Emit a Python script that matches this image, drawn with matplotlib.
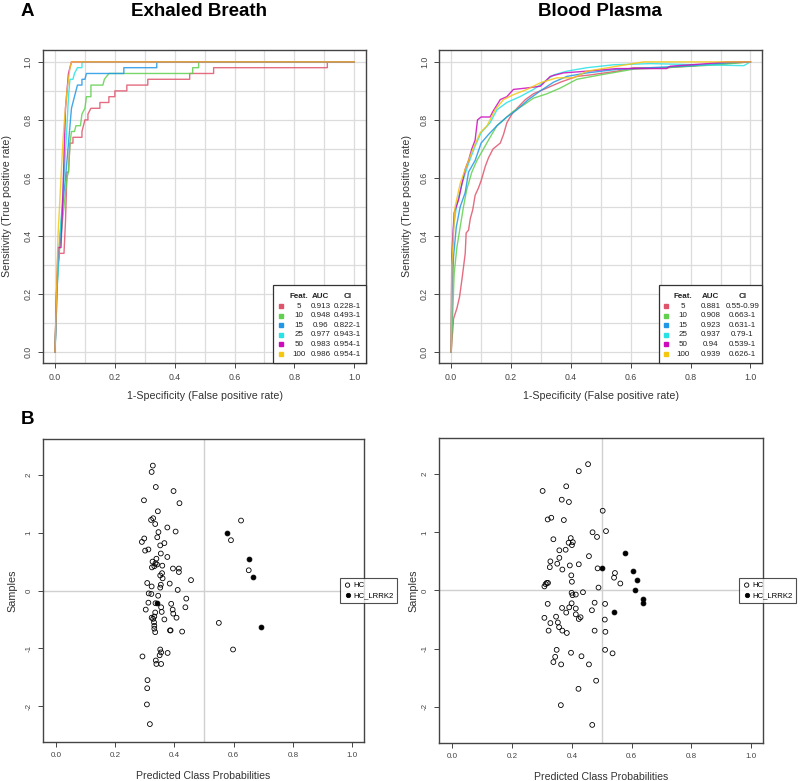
import numpy as np
import matplotlib
matplotlib.use('Agg')
import matplotlib.pyplot as plt
from matplotlib.patches import Rectangle

plt.rcParams['font.family'] = ['Liberation Sans', 'DejaVu Sans']
plt.rcParams['axes.unicode_minus'] = False

# --- ROC data, Exhaled Breath (fpr / tpr vertices)
b5_fpr = [0, 0.005, 0.01, 0.015, 0.03, 0.035, 0.04, 0.045, 0.05, 0.06, 0.06, 0.09, 0.09, 0.10, 0.11, 0.11,
          0.12, 0.15, 0.15, 0.18, 0.18, 0.20, 0.20, 0.24, 0.24, 0.31, 0.31, 0.45, 0.45, 0.53, 0.53, 0.91, 0.91, 1.0]
b5_tpr = [0, 0.2, 0.3, 0.34, 0.34, 0.45, 0.62, 0.62, 0.72, 0.72, 0.74, 0.74, 0.76, 0.80, 0.80, 0.82,
          0.84, 0.84, 0.86, 0.86, 0.88, 0.88, 0.90, 0.90, 0.92, 0.92, 0.94, 0.94, 0.96, 0.96, 0.98, 0.98, 1.0, 1.0]
b10_fpr = [0, 0.005, 0.015, 0.03, 0.04, 0.045, 0.05, 0.055, 0.065, 0.07, 0.085, 0.09, 0.10, 0.105, 0.12, 0.12,
           0.16, 0.165, 0.18, 0.46, 0.46, 0.48, 0.48, 1.0]
b10_tpr = [0, 0.2, 0.35, 0.5, 0.6, 0.62, 0.72, 0.76, 0.76, 0.78, 0.78, 0.82, 0.84, 0.88, 0.88, 0.92,
           0.92, 0.94, 0.96, 0.96, 0.98, 0.98, 1.0, 1.0]
b15_fpr = [0, 0.005, 0.01, 0.02, 0.03, 0.035, 0.045, 0.05, 0.055, 0.06, 0.065, 0.07, 0.075, 0.09, 0.09, 0.10,
           0.105, 0.23, 0.23, 0.34, 0.34, 1.0]
b15_tpr = [0, 0.15, 0.3, 0.44, 0.55, 0.6, 0.72, 0.78, 0.84, 0.86, 0.88, 0.9, 0.92, 0.92, 0.94, 0.94,
           0.96, 0.96, 0.98, 0.98, 1.0, 1.0]
b25_fpr = [0, 0.005, 0.01, 0.02, 0.03, 0.04, 0.045, 0.05, 0.06, 0.065, 0.075, 0.09, 0.09, 1.0]
b25_tpr = [0, 0.15, 0.3, 0.45, 0.6, 0.78, 0.88, 0.94, 0.94, 0.96, 0.98, 0.98, 1.0, 1.0]
b50_fpr = [0, 0.005, 0.01, 0.02, 0.025, 0.035, 0.04, 0.045, 0.05, 0.055, 1.0]
b50_tpr = [0, 0.2, 0.36, 0.36, 0.5, 0.84, 0.9, 0.96, 0.98, 1.0, 1.0]
b100_fpr = [0, 0.005, 0.01, 0.02, 0.025, 0.03, 0.04, 0.05, 0.055, 1.0]
b100_tpr = [0, 0.2, 0.4, 0.6, 0.7, 0.78, 0.9, 0.98, 1.0, 1.0]

# --- ROC data, Blood Plasma
p5_fpr = [0, 0.008, 0.019, 0.028, 0.036, 0.047, 0.05, 0.058, 0.064, 0.072, 0.08, 0.091, 0.10, 0.114, 0.125,
          0.14, 0.164, 0.175, 0.186, 0.203, 0.22, 0.248, 0.275, 0.32, 0.365, 0.42, 0.465, 0.554, 0.61, 0.72,
          0.855, 1.0]
p5_tpr = [0, 0.115, 0.15, 0.19, 0.25, 0.34, 0.41, 0.42, 0.46, 0.49, 0.54, 0.565, 0.59, 0.64, 0.67,
          0.70, 0.72, 0.75, 0.79, 0.82, 0.84, 0.87, 0.89, 0.91, 0.93, 0.95, 0.955, 0.968, 0.98, 0.98,
          0.99, 1.0]
p10_fpr = [0, 0.004, 0.01, 0.019, 0.03, 0.041, 0.052, 0.069, 0.086, 0.108, 0.13, 0.153, 0.175, 0.208, 0.24,
           0.275, 0.32, 0.365, 0.42, 0.498, 0.61, 0.72, 0.89, 1.0]
p10_tpr = [0, 0.1, 0.27, 0.36, 0.43, 0.50, 0.56, 0.62, 0.66, 0.70, 0.74, 0.78, 0.80, 0.83, 0.85,
           0.875, 0.89, 0.91, 0.94, 0.955, 0.975, 0.98, 0.99, 1.0]
p15_fpr = [0, 0.002, 0.008, 0.017, 0.03, 0.047, 0.058, 0.08, 0.10, 0.125, 0.153, 0.186, 0.22, 0.258, 0.298,
           0.342, 0.387, 0.454, 0.554, 0.666, 0.81, 0.922, 1.0]
p15_tpr = [0, 0.18, 0.33, 0.43, 0.50, 0.55, 0.62, 0.66, 0.72, 0.75, 0.78, 0.81, 0.835, 0.87, 0.90,
           0.93, 0.95, 0.962, 0.974, 0.98, 0.987, 0.997, 1.0]
p25_fpr = [0, 0.002, 0.008, 0.019, 0.036, 0.058, 0.08, 0.10, 0.13, 0.153, 0.186, 0.23, 0.275, 0.31, 0.342,
           0.387, 0.454, 0.543, 0.666, 0.833, 0.978, 1.0]
p25_tpr = [0, 0.27, 0.43, 0.51, 0.58, 0.65, 0.71, 0.756, 0.79, 0.835, 0.86, 0.88, 0.905, 0.93, 0.955,
           0.968, 0.98, 0.99, 0.994, 0.99, 0.987, 1.0]
p50_fpr = [0, 0.002, 0.01, 0.025, 0.036, 0.047, 0.058, 0.069, 0.08, 0.088, 0.10, 0.13, 0.14, 0.164, 0.186,
           0.208, 0.253, 0.298, 0.331, 0.376, 0.454, 0.554, 0.72, 0.732, 0.855, 0.922, 1.0]
p50_tpr = [0, 0.33, 0.48, 0.525, 0.58, 0.63, 0.66, 0.70, 0.73, 0.80, 0.81, 0.81, 0.83, 0.87, 0.88,
           0.905, 0.91, 0.916, 0.95, 0.962, 0.968, 0.977, 0.977, 0.985, 0.994, 1.0, 1.0]
p100_fpr = [0, 0.002, 0.013, 0.03, 0.047, 0.069, 0.097, 0.12, 0.147, 0.175, 0.208, 0.253, 0.298, 0.353, 0.41,
            0.454, 0.554, 0.643, 1.0]
p100_tpr = [0, 0.3, 0.5, 0.58, 0.63, 0.69, 0.756, 0.78, 0.835, 0.87, 0.887, 0.905, 0.928, 0.945, 0.945,
            0.968, 0.985, 1.0, 1.0]

feats = ['5', '10', '15', '25', '50', '100']
breath_auc = ['0.913', '0.948', '0.96', '0.977', '0.983', '0.986']
breath_ci = ['0.228-1', '0.493-1', '0.822-1', '0.943-1', '0.954-1', '0.954-1']
plasma_auc = ['0.881', '0.908', '0.923', '0.937', '0.94', '0.939']
plasma_ci = ['0.55-0.99', '0.663-1', '0.631-1', '0.79-1', '0.539-1', '0.626-1']
roc_colors = ['#DF536B', '#61D04F', '#2297E6', '#28E2E5', '#CD0BBC', '#F5C710']

# --- predicted class probabilities, Exhaled Breath
hc_breath_x = [0.327, 0.323, 0.337, 0.397, 0.297, 0.417, 0.344, 0.328, 0.321, 0.335, 0.376, 0.404, 0.346,
               0.342, 0.298, 0.290, 0.366, 0.352, 0.312, 0.301, 0.354, 0.376, 0.339, 0.326, 0.336, 0.341,
               0.359, 0.332, 0.324, 0.395, 0.415, 0.415, 0.358, 0.352, 0.360, 0.456, 0.384, 0.308, 0.354,
               0.323, 0.352, 0.411, 0.313, 0.322, 0.345, 0.440, 0.312, 0.389, 0.336, 0.355, 0.437, 0.303,
               0.394, 0.357, 0.335, 0.396, 0.332, 0.407, 0.323, 0.328, 0.366, 0.331, 0.332, 0.332, 0.385,
               0.387, 0.426, 0.335, 0.352, 0.355, 0.377, 0.350, 0.292, 0.337, 0.339, 0.355, 0.309, 0.308,
               0.307, 0.317, 0.625, 0.591, 0.651, 0.550, 0.598]
hc_breath_y = [2.16, 2.05, 1.79, 1.72, 1.56, 1.51, 1.37, 1.25, 1.22, 1.15, 1.09, 1.02, 1.01,
               0.92, 0.90, 0.84, 0.82, 0.78, 0.71, 0.69, 0.64, 0.58, 0.55, 0.50, 0.47, 0.45,
               0.43, 0.42, 0.40, 0.38, 0.38, 0.32, 0.30, 0.26, 0.21, 0.18, 0.12, 0.13, 0.10,
               0.07, 0.05, 0.01, -0.05, -0.06, -0.09, -0.14, -0.21, -0.23, -0.22, -0.29, -0.29, -0.33,
               -0.33, -0.37, -0.38, -0.40, -0.45, -0.47, -0.47, -0.49, -0.50, -0.55, -0.61, -0.66, -0.69,
               -0.69, -0.71, -0.72, -1.02, -1.07, -1.08, -1.12, -1.14, -1.21, -1.27, -1.27, -1.55, -1.69,
               -1.97, -2.31, 1.21, 0.87, 0.35, -0.56, -1.02]
lrrk2_breath_x = [0.576, 0.651, 0.666, 0.694, 0.340]
lrrk2_breath_y = [0.99, 0.54, 0.24, -0.63, -0.22]

# --- predicted class probabilities, Blood Plasma
hc_plasma_x = [0.454, 0.423, 0.302, 0.381, 0.366, 0.390, 0.503, 0.331, 0.319, 0.373, 0.514, 0.469, 0.484,
               0.396, 0.338, 0.403, 0.389, 0.400, 0.379, 0.358, 0.457, 0.358, 0.328, 0.351, 0.423, 0.393,
               0.326, 0.486, 0.368, 0.544, 0.398, 0.541, 0.316, 0.320, 0.400, 0.562, 0.312, 0.308, 0.489,
               0.399, 0.437, 0.413, 0.402, 0.476, 0.511, 0.319, 0.399, 0.367, 0.413, 0.391, 0.467, 0.381,
               0.413, 0.347, 0.429, 0.423, 0.308, 0.510, 0.353, 0.328, 0.357, 0.322, 0.368, 0.476, 0.383,
               0.512, 0.349, 0.511, 0.397, 0.536, 0.432, 0.344, 0.338, 0.364, 0.457, 0.481, 0.422, 0.363,
               0.468]
hc_plasma_y = [2.17, 2.05, 1.71, 1.79, 1.56, 1.52, 1.37, 1.25, 1.22, 1.21, 1.02, 1.00, 0.92,
               0.90, 0.88, 0.83, 0.82, 0.78, 0.70, 0.69, 0.59, 0.56, 0.50, 0.46, 0.45, 0.43,
               0.40, 0.38, 0.36, 0.30, 0.26, 0.22, 0.13, 0.13, 0.15, 0.12, 0.11, 0.07, 0.05,
               -0.04, -0.03, -0.07, -0.08, -0.21, -0.23, -0.23, -0.22, -0.30, -0.31, -0.29, -0.34, -0.38,
               -0.41, -0.45, -0.46, -0.49, -0.47, -0.50, -0.55, -0.56, -0.63, -0.69, -0.69, -0.69, -0.73,
               -0.71, -1.02, -1.02, -1.07, -1.08, -1.13, -1.14, -1.23, -1.27, -1.27, -1.55, -1.69, -1.97,
               -2.31]
lrrk2_plasma_x = [0.578, 0.501, 0.604, 0.619, 0.611, 0.639, 0.637, 0.542]
lrrk2_plasma_y = [0.64, 0.38, 0.33, 0.18, 0.00, -0.14, -0.22, -0.37]

frame_col = '#444444'
text_col = '#333333'
grid_col = '#dcdcdc'


def style_axes(ax):
    for s in ax.spines.values():
        s.set_color(frame_col)
        s.set_linewidth(1.0)
    ax.tick_params(direction='out', length=3.5, width=0.7, color=frame_col,
                   labelsize=6.3, labelcolor='#444444', pad=4)
    plt.setp(ax.get_yticklabels(), rotation=90, va='center')


def roc_panel(ax, curves, aucs, cis, legend_left, cols, ylab_x):
    for x in np.arange(0, 1.01, 0.1):
        ax.axvline(x, color=grid_col, lw=0.9, zorder=0)
        ax.axhline(x, color=grid_col, lw=0.9, zorder=0)
    for (fpr, tpr), c in zip(curves, roc_colors):
        ax.plot(fpr, tpr, color=c, lw=1.0, alpha=0.85, zorder=2)
    ax.set_xlim(-0.04, 1.04)
    ax.set_ylim(-0.038, 1.041)
    ticks = [0, 0.2, 0.4, 0.6, 0.8, 1.0]
    ax.set_xticks(ticks)
    ax.set_yticks(ticks)
    ax.set_xticklabels(['0.0', '0.2', '0.4', '0.6', '0.8', '1.0'])
    ax.set_yticklabels(['0.0', '0.2', '0.4', '0.6', '0.8', '1.0'])
    style_axes(ax)
    ax.set_xlabel('1-Specificity (False positive rate)', fontsize=7.7, color=text_col)
    ax.set_ylabel('Sensitivity (True positive rate)', fontsize=7.7, color=text_col)
    ax.xaxis.set_label_coords(0.5, -0.088)
    ax.yaxis.set_label_coords(ylab_x, 0.5)

    # legend table in the lower right corner
    ax.add_patch(Rectangle((legend_left, 0), 1 - legend_left, 0.248, transform=ax.transAxes,
                           facecolor='white', edgecolor='#333333', lw=0.9, zorder=5, clip_on=False))
    sq, fx, ax_auc, ax_ci = cols
    fs = 5.8
    ax.text(fx, 0.214, 'Feat.', transform=ax.transAxes, ha='center', va='center',
            fontsize=fs, fontweight='bold', color='#222222', zorder=6)
    ax.text(ax_auc, 0.214, 'AUC', transform=ax.transAxes, ha='center', va='center',
            fontsize=fs, fontweight='bold', color='#222222', zorder=6)
    ax.text(ax_ci, 0.214, 'CI', transform=ax.transAxes, ha='center', va='center',
            fontsize=fs, fontweight='bold', color='#222222', zorder=6)
    for i in range(6):
        yy = 0.182 - i * 0.0307
        ax.plot([sq], [yy], marker='s', markersize=2.6, color=roc_colors[i], transform=ax.transAxes,
                zorder=6, clip_on=False, linestyle='none')
        ax.text(fx, yy, feats[i], transform=ax.transAxes, ha='center', va='center', fontsize=fs,
                color='#222222', zorder=6)
        ax.text(ax_auc, yy, aucs[i], transform=ax.transAxes, ha='center', va='center', fontsize=fs,
                color='#222222', zorder=6)
        ax.text(ax_ci, yy, cis[i], transform=ax.transAxes, ha='center', va='center', fontsize=fs,
                color='#222222', zorder=6)


def prob_panel(ax, hx, hy, lx, ly, ylab_x):
    ax.axvline(0.5, color='#d0d0d0', lw=1.0, zorder=0)
    ax.axhline(0, color='#d0d0d0', lw=1.0, zorder=0)
    ax.scatter(hx, hy, s=12, facecolors='none', edgecolors='black', linewidths=0.6, zorder=2, label='HC')
    ax.scatter(lx, ly, s=12, facecolors='black', edgecolors='black', linewidths=0.6, zorder=3,
               label='HC_LRRK2')
    ax.set_xlim(-0.044, 1.04)
    ax.set_ylim(-2.62, 2.62)
    ax.set_xticks([0, 0.2, 0.4, 0.6, 0.8, 1.0])
    ax.set_xticklabels(['0.0', '0.2', '0.4', '0.6', '0.8', '1.0'])
    ax.set_yticks([-2, -1, 0, 1, 2])
    style_axes(ax)
    ax.tick_params(labelsize=5.8)
    ax.set_xlabel('Predicted Class Probabilities', fontsize=7.6, color=text_col)
    ax.set_ylabel('Samples', fontsize=7.8, color=text_col)
    ax.xaxis.set_label_coords(0.5, -0.095)
    ax.yaxis.set_label_coords(ylab_x, 0.5)
    leg = ax.legend(loc='center left', bbox_to_anchor=(0.925, 0.5), fontsize=5.6, frameon=True,
                    fancybox=False, borderpad=0.5, handletextpad=0.2, handlelength=1.0,
                    labelspacing=0.35, borderaxespad=0, markerscale=0.9)
    leg.get_frame().set_edgecolor('#222222')
    leg.get_frame().set_linewidth(0.8)
    leg.set_zorder(10)


fig = plt.figure(figsize=(8, 7.81), dpi=100)

ax1 = fig.add_axes([0.0538, 0.5352, 0.404, 0.4008])
ax2 = fig.add_axes([0.549, 0.5352, 0.404, 0.4008])
ax3 = fig.add_axes([0.0538, 0.0499, 0.401, 0.388])
ax4 = fig.add_axes([0.549, 0.0487, 0.405, 0.3905])

roc_panel(ax1, [(b5_fpr, b5_tpr), (b10_fpr, b10_tpr), (b15_fpr, b15_tpr), (b25_fpr, b25_tpr),
                (b50_fpr, b50_tpr), (b100_fpr, b100_tpr)],
          breath_auc, breath_ci, 0.712, (0.737, 0.793, 0.858, 0.941), -0.096)
roc_panel(ax2, [(p5_fpr, p5_tpr), (p10_fpr, p10_tpr), (p15_fpr, p15_tpr), (p25_fpr, p25_tpr),
                (p50_fpr, p50_tpr), (p100_fpr, p100_tpr)],
          plasma_auc, plasma_ci, 0.681, (0.703, 0.755, 0.839, 0.938), -0.084)

prob_panel(ax3, hc_breath_x, hc_breath_y, lrrk2_breath_x, lrrk2_breath_y, -0.081)
prob_panel(ax4, hc_plasma_x, hc_plasma_y, lrrk2_plasma_x, lrrk2_plasma_y, -0.065)

fig.text(199 / 800, 1 - 11 / 781, 'Exhaled Breath', ha='center', va='center', fontsize=13.5,
         fontweight='bold', color='black')
fig.text(600 / 800, 1 - 11 / 781, 'Blood Plasma', ha='center', va='center', fontsize=13.5,
         fontweight='bold', color='black')
fig.text(27 / 800, 1 - 11 / 781, 'A', ha='center', va='center', fontsize=13.5, fontweight='bold')
fig.text(27 / 800, 1 - 419 / 781, 'B', ha='center', va='center', fontsize=13.5, fontweight='bold')

fig.savefig('out.png', dpi=100)
